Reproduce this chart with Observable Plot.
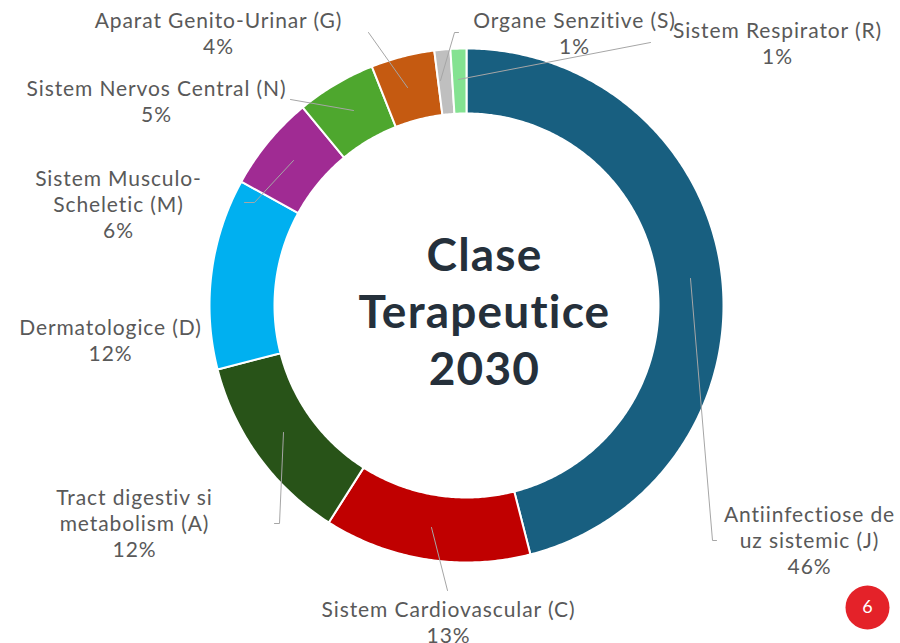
<!DOCTYPE html>
<html><head><meta charset="utf-8">
<script src="https://cdn.jsdelivr.net/npm/d3@7"></script>
<script src="https://cdn.jsdelivr.net/npm/@observablehq/plot@0.6"></script>
<style>html,body{margin:0;padding:0;background:#fff;overflow:hidden} svg text{font-variant-ligatures:none}</style>
</head><body><div id="chart"></div>
<script>
// ---- data ----
const categories = ["J", "C", "A", "D", "M", "N", "G", "S", "R"];
const labels = [
  "Antiinfectiose de\nuz sistemic (J)",
  "Sistem Cardiovascular (C)",
  "Tract digestiv si\nmetabolism (A)",
  "Dermatologice (D)",
  "Sistem Musculo-\nScheletic (M)",
  "Sistem Nervos Central (N)",
  "Aparat Genito-Urinar (G)",
  "Organe Senzitive (S)",
  "Sistem Respirator (R)"
];
const values = [46, 13, 12, 12, 6, 5, 4, 1, 1];
const colors = ["#185F80", "#C00000", "#285318", "#00B0F0", "#A02B93", "#4EA72E", "#C55A11", "#BFBFBF", "#84E291"];
const centerTitle = "Clase\nTerapeutice\n2030";
const pageNumber = "6";

// ---- layout (pixel positions of labels / leader lines) ----
const cx = 466, cy = 305, R = 257, r0 = 192;
const labelPos = [
  [809, 503], [448, 598], [134, 486], [110, 316], [118, 167],
  [156, 77], [218, 9], [574, 9], [777, 19]
];
const leaders = [
  [[690, 278], [712, 540], [716, 540]],
  [[431, 527], [447, 590]],
  [[283, 432], [279, 523], [274, 523]],
  [],
  [[293, 160], [254, 202], [244, 202]],
  [[353, 110], [290, 99]],
  [[407, 87], [368, 32]],
  [[440, 80], [454, 32], [458, 32]],
  [[458, 79], [650, 42]]
];

// ---- build slices ----
const pie = d3.pie().sort(null).value(d => d.value)(
  categories.map((c, i) => ({cat: c, value: values[i], color: colors[i]}))
);
const ringPts = [];
pie.forEach(p => {
  const n = Math.max(4, Math.ceil((p.endAngle - p.startAngle) / 0.01));
  for (let k = 0; k <= n; k++) {
    const a = p.startAngle + (p.endAngle - p.startAngle) * k / n;
    ringPts.push({cat: p.data.cat, color: p.data.color, x: cx + R * Math.sin(a), y: cy - R * Math.cos(a)});
  }
  for (let k = n; k >= 0; k--) {
    const a = p.startAngle + (p.endAngle - p.startAngle) * k / n;
    ringPts.push({cat: p.data.cat, color: p.data.color, x: cx + r0 * Math.sin(a), y: cy - r0 * Math.cos(a)});
  }
});

const labelData = labels.map((t, i) => ({
  text: t + "\n" + values[i] + "%", x: labelPos[i][0], y: labelPos[i][1]
}));
const leaderPts = leaders.flatMap((l, i) => l.map(([x, y]) => ({id: i, x, y})));

const chart = Plot.plot({
  width: 900, height: 643,
  margin: 0,
  x: {domain: [0, 900], range: [0, 900], axis: null},
  y: {domain: [0, 643], range: [0, 643], axis: null},
  style: {background: "#fff"},
  marks: [
    Plot.line(ringPts, {x: "x", y: "y", z: "cat", fill: "color", stroke: "#fff", strokeWidth: 2, curve: "linear-closed"}),
    Plot.line(leaderPts, {x: "x", y: "y", z: "id", stroke: "#A6A6A6", strokeWidth: 1}),
    Plot.text(labelData, {x: "x", y: "y", text: "text", fill: "#595959", fontSize: 21, fontFamily: "Lato", lineHeight: 1.24, lineAnchor: "top", textAnchor: "middle"}),
    Plot.text([centerTitle], {x: 484, y: 309, text: d => d, fill: "#25303B", fontSize: 46, fontWeight: "bold", fontFamily: "Lato", lineHeight: 1.24, lineAnchor: "middle"}),
    Plot.dot([pageNumber], {x: 867, y: 607, r: 22, fill: "#E42229"}),
    Plot.text([pageNumber], {x: 867, y: 607, text: d => d, fill: "#fff", fontSize: 18, fontFamily: "Lato"})
  ]
});
const textGroups = chart.querySelectorAll('g[aria-label="text"]');
if (textGroups[0]) textGroups[0].setAttribute("letter-spacing", "0.9");
if (textGroups[1]) textGroups[1].setAttribute("letter-spacing", "1.2");
document.getElementById("chart").append(chart);
</script>
</body></html>
